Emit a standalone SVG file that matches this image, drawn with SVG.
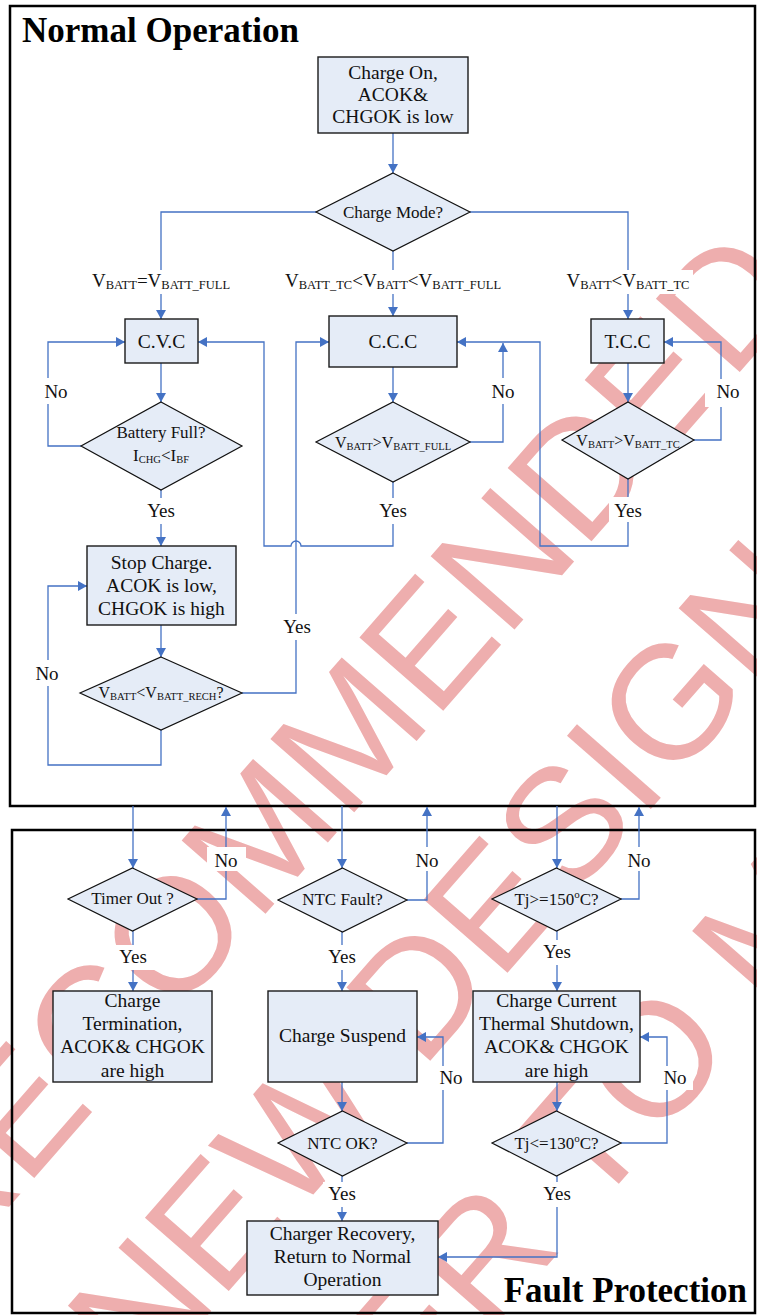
<svg xmlns="http://www.w3.org/2000/svg" width="757" height="1315" viewBox="0 0 757 1315">
<style>
.box{fill:#E5ECF7;stroke:#1a1a1a;stroke-width:1.4}
.dia{fill:#E5ECF7;stroke:#111;stroke-width:1.2}
.t{font-family:'Liberation Serif','Times New Roman',serif;font-size:19.5px;text-anchor:middle;fill:#111}
.dt{font-size:17px}
.vt{font-size:16px}
.lbl{font-size:19px}
.s{font-size:12.5px}
.ss{font-size:10.5px}
.bg{fill:#fff}
.conn path{fill:none;stroke:#4472C4;stroke-width:1.3}
.frame{fill:none;stroke:#000;stroke-width:2.5}
.title{font-family:'Liberation Serif','Times New Roman',serif;font-weight:bold;fill:#000}
.wm{font-family:'Liberation Sans',Arial,sans-serif;font-size:162px;fill:#EEAEAE}
</style>
<defs>
<marker id="arr" viewBox="0 0 9 10" refX="9" refY="5" markerWidth="9" markerHeight="10" markerUnits="userSpaceOnUse" orient="auto">
<path d="M0,0 L9,5 L0,10 z" fill="#4472C4"/>
</marker>
</defs>
<rect width="757" height="1315" fill="#fff"/>
<g id="watermark">
<text class="wm" transform="translate(808,294) rotate(-48.8)" text-anchor="end">RECOMMENDED</text>
<text class="wm" transform="translate(143,1389) rotate(-48.8)">NEW DESIGN</text>
<text class="wm" transform="translate(202,1660) rotate(-48.8)">REFER TO M</text>
</g>
<g id="frames">
<rect class="frame" x="10" y="6" width="745" height="800"/>
<rect class="frame" x="12" y="830" width="743" height="483"/>
<text class="title" x="22" y="42" font-size="35">Normal Operation</text>
<text class="title" x="747" y="1302" font-size="35" text-anchor="end">Fault Protection</text>
</g>
<g id="connectors" class="conn">
<path marker-end="url(#arr)" d="M393,133 V173"/>
<path marker-end="url(#arr)" d="M316,212 H161 V319"/>
<path marker-end="url(#arr)" d="M393,251 V316"/>
<path marker-end="url(#arr)" d="M470,212 H628 V319"/>
<path marker-end="url(#arr)" d="M161,363 V402"/>
<path marker-end="url(#arr)" d="M81,446 H48 V342 H125"/>
<path marker-end="url(#arr)" d="M161,490 V546"/>
<path marker-end="url(#arr)" d="M393,367 V402"/>
<path marker-end="url(#arr)" d="M470,442 H503 V343"/>
<path marker-end="url(#arr)" d="M393,482 V546 H301 A5,5 0 0 0 291,546 H264 V342 H198"/>
<path marker-end="url(#arr)" d="M628,363 V402"/>
<path marker-end="url(#arr)" d="M694,440 H721 V342 H664"/>
<path marker-end="url(#arr)" d="M628,479 V546 H540 V342 H457"/>
<path marker-end="url(#arr)" d="M161,625 V657"/>
<path marker-end="url(#arr)" d="M161,730 V765 H48 V586 H87"/>
<path marker-end="url(#arr)" d="M242,693 H296 V342 H329"/>
<path marker-end="url(#arr)" d="M133,806 V868"/>
<path marker-end="url(#arr)" d="M197,899 H226 V807"/>
<path marker-end="url(#arr)" d="M133,931 V991"/>
<path marker-end="url(#arr)" d="M342,806 V868"/>
<path marker-end="url(#arr)" d="M407,900 H427 V807"/>
<path marker-end="url(#arr)" d="M342,932 V991"/>
<path marker-end="url(#arr)" d="M557,806 V868"/>
<path marker-end="url(#arr)" d="M621,899 H639 V807"/>
<path marker-end="url(#arr)" d="M557,931 V991"/>
<path marker-end="url(#arr)" d="M342,1082 V1111"/>
<path marker-end="url(#arr)" d="M407,1143 H443 V1037 H417"/>
<path marker-end="url(#arr)" d="M342,1176 V1221"/>
<path marker-end="url(#arr)" d="M557,1082 V1111"/>
<path marker-end="url(#arr)" d="M621,1143 H667 V1037 H640"/>
<path marker-end="url(#arr)" d="M557,1176 V1257 H438"/>
</g>
<g id="labels" class="t lbl">
<rect class="bg" x="88" y="270" width="146" height="24"/>
<text x="161" y="287">V<tspan class="s" dy="2">BATT</tspan><tspan dy="-2">=V</tspan><tspan class="s" dy="2">BATT_FULL</tspan></text>
<rect class="bg" x="281" y="270" width="226" height="24"/>
<text x="393" y="287">V<tspan class="s" dy="2">BATT_TC</tspan><tspan dy="-2">&lt;V</tspan><tspan class="s" dy="2">BATT</tspan><tspan dy="-2">&lt;V</tspan><tspan class="s" dy="2">BATT_FULL</tspan></text>
<rect class="bg" x="563" y="270" width="130" height="24"/>
<text x="628" y="287">V<tspan class="s" dy="2">BATT</tspan><tspan dy="-2">&lt;V</tspan><tspan class="s" dy="2">BATT_TC</tspan></text>
<rect class="bg" x="40" y="378" width="32" height="26"/>
<text x="56" y="398">No</text>
<rect class="bg" x="142" y="498" width="38" height="26"/>
<text x="161" y="517">Yes</text>
<rect class="bg" x="487" y="378" width="32" height="26"/>
<text x="503" y="398">No</text>
<rect class="bg" x="374" y="498" width="38" height="26"/>
<text x="393" y="517">Yes</text>
<rect class="bg" x="705" y="379" width="45" height="28"/>
<text x="728" y="398">No</text>
<rect class="bg" x="609" y="497" width="55" height="25"/>
<text x="628" y="517">Yes</text>
<rect class="bg" x="277" y="614" width="38" height="26"/>
<text x="297" y="633">Yes</text>
<rect class="bg" x="31" y="660" width="32" height="26"/>
<text x="47" y="680">No</text>
<rect class="bg" x="207" y="847" width="39" height="24"/>
<text x="226" y="867">No</text>
<rect class="bg" x="409" y="847" width="36" height="24"/>
<text x="427" y="867">No</text>
<rect class="bg" x="622" y="847" width="34" height="24"/>
<text x="639" y="867">No</text>
<rect class="bg" x="115" y="945" width="40" height="25"/>
<text x="133" y="963">Yes</text>
<rect class="bg" x="323" y="945" width="39" height="25"/>
<text x="342" y="963">Yes</text>
<rect class="bg" x="537" y="940" width="40" height="25"/>
<text x="557" y="958">Yes</text>
<rect class="bg" x="434" y="1066" width="34" height="24"/>
<text x="451" y="1084">No</text>
<rect class="bg" x="657" y="1066" width="36" height="24"/>
<text x="675" y="1084">No</text>
<rect class="bg" x="323" y="1182" width="39" height="25"/>
<text x="342" y="1200">Yes</text>
<rect class="bg" x="537" y="1182" width="40" height="25"/>
<text x="557" y="1200">Yes</text>
</g>
<g id="n-start">
<rect class="box" x="318" y="57" width="150" height="76"/>
<text class="t" x="393" y="79">Charge On,</text>
<text class="t" x="393" y="101">ACOK&amp;</text>
<text class="t" x="393" y="123">CHGOK is low</text>
</g>
<g id="n-mode">
<polygon class="dia" points="393,173 470,212 393,251 316,212"/>
<text class="t dt" x="393" y="218">Charge Mode?</text>
</g>
<g id="n-cvc">
<rect class="box" x="125" y="319" width="73" height="44"/>
<text class="t" x="161.5" y="348">C.V.C</text>
</g>
<g id="n-ccc">
<rect class="box" x="329" y="316" width="128" height="51"/>
<text class="t" x="393" y="348">C.C.C</text>
</g>
<g id="n-tcc">
<rect class="box" x="591" y="319" width="73" height="44"/>
<text class="t" x="627.5" y="348">T.C.C</text>
</g>
<g id="n-full">
<polygon class="dia" points="161,402 242,446 161,490 81,446"/>
<text class="t dt" x="161" y="438">Battery Full?</text>
<text class="t dt" x="161" y="461">I<tspan class="ss" font-size="11" dy="2">CHG</tspan><tspan dy="-2">&lt;I</tspan><tspan class="ss" font-size="11" dy="2">BF</tspan></text>
</g>
<g id="n-ccc-d">
<polygon class="dia" points="393,402 470,442 393,482 316,442"/>
<text class="t vt" x="393" y="448">V<tspan class="ss" dy="2">BATT</tspan><tspan dy="-2">&gt;V</tspan><tspan class="ss" dy="2">BATT_FULL</tspan></text>
</g>
<g id="n-tcc-d">
<polygon class="dia" points="628,402 694,440 628,479 562,440"/>
<text class="t vt" x="628" y="446">V<tspan class="ss" dy="2">BATT</tspan><tspan dy="-2">&gt;V</tspan><tspan class="ss" dy="2">BATT_TC</tspan></text>
</g>
<g id="n-stop">
<rect class="box" x="87" y="546" width="149" height="79"/>
<text class="t" x="161.5" y="569">Stop Charge.</text>
<text class="t" x="161.5" y="592">ACOK is low,</text>
<text class="t" x="161.5" y="615">CHGOK is high</text>
</g>
<g id="n-rech">
<polygon class="dia" points="161,657 242,693 161,730 80,693"/>
<text class="t vt" x="161" y="698">V<tspan class="ss" dy="2">BATT</tspan><tspan dy="-2">&lt;V</tspan><tspan class="ss" dy="2">BATT_RECH</tspan><tspan dy="-2">?</tspan></text>
</g>
<g id="n-timer">
<polygon class="dia" points="132.5,868 197,899 132.5,931 68,899"/>
<text class="t dt" x="132.5" y="904">Timer Out ?</text>
</g>
<g id="n-term">
<rect class="box" x="53" y="991" width="159" height="91"/>
<text class="t" x="132.5" y="1007">Charge</text>
<text class="t" x="132.5" y="1030">Termination,</text>
<text class="t" x="132.5" y="1053">ACOK&amp; CHGOK</text>
<text class="t" x="132.5" y="1077">are high</text>
</g>
<g id="n-ntc">
<polygon class="dia" points="342.5,868 407,900 342.5,932 278,900"/>
<text class="t dt" x="342.5" y="905">NTC Fault?</text>
</g>
<g id="n-suspend">
<rect class="box" x="268" y="991" width="149" height="91"/>
<text class="t" x="342.5" y="1042">Charge Suspend</text>
</g>
<g id="n-tj150">
<polygon class="dia" points="556.5,868 621,899 556.5,931 492,899"/>
<text class="t dt" x="556.5" y="905">Tj&gt;=150<tspan font-size="11" dy="-7">o</tspan><tspan dy="7">C?</tspan></text>
</g>
<g id="n-thermal">
<rect class="box" x="473" y="991" width="167" height="91"/>
<text class="t" x="556.5" y="1007">Charge Current</text>
<text class="t" x="556.5" y="1030">Thermal Shutdown,</text>
<text class="t" x="556.5" y="1053">ACOK&amp; CHGOK</text>
<text class="t" x="556.5" y="1077">are high</text>
</g>
<g id="n-ntcok">
<polygon class="dia" points="342.5,1111 407,1143 342.5,1176 278,1143"/>
<text class="t dt" x="342.5" y="1149">NTC OK?</text>
</g>
<g id="n-tj130">
<polygon class="dia" points="556.5,1111 621,1143 556.5,1176 492,1143"/>
<text class="t dt" x="556.5" y="1149">Tj&lt;=130<tspan font-size="11" dy="-7">o</tspan><tspan dy="7">C?</tspan></text>
</g>
<g id="n-recovery">
<rect class="box" x="247" y="1221" width="191" height="74"/>
<text class="t" x="342.5" y="1240">Charger Recovery,</text>
<text class="t" x="342.5" y="1263">Return to Normal</text>
<text class="t" x="342.5" y="1286">Operation</text>
</g>
</svg>
